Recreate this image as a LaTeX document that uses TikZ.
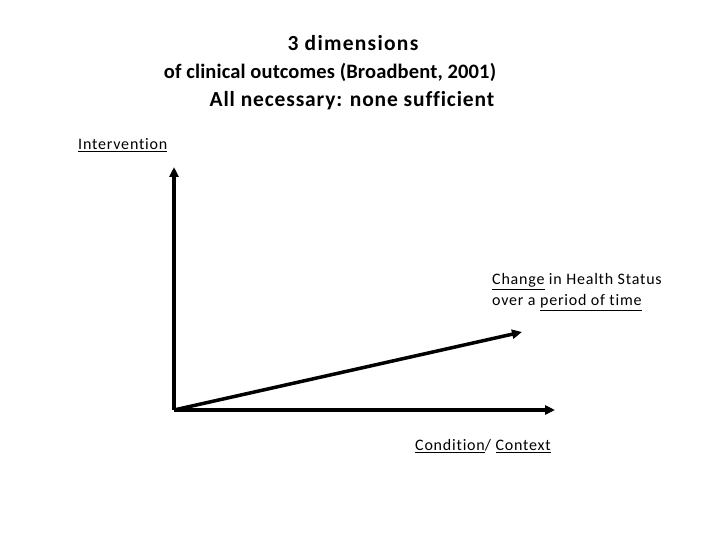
\documentclass[tikz,border=0pt]{standalone}
\usepackage{fontspec}
\setmainfont{Carlito}
\newfontfamily\lblfont[LetterSpace=5,Ligatures=NoCommon]{Carlito}
\newfontfamily\ttlfont[Ligatures=NoCommon]{Carlito}
\usetikzlibrary{arrows.meta}
\newcommand\ulx[1]{\underline{#1}}
\newcommand\lsp[1]{\addfontfeatures{LetterSpace=#1}}
\begin{document}
\begin{tikzpicture}[x=1pt,y=-1pt,
  axis/.style={line width=3.5pt,-{Triangle[length=10pt,width=9pt]}},
  title/.style={font=\ttlfont\bfseries\fontsize{20.5}{28.5}\selectfont,anchor=base,inner sep=0pt},
  lbl/.style={font=\lblfont\fontsize{16}{21}\selectfont,align=left,inner sep=0pt}]
\useasboundingbox (0,0) rectangle (720,540);
\node[title] (t1) at (353,51) {\fontsize{21.5}{28.5}\selectfont\lsp{5.9}3 dimensions};
\node[title] (t2) at (330,79) {\lsp{0.7}of clinical outcomes (Broadbent, 2001)};
\node[title] (t3) at (352,107) {\fontsize{21.5}{28.5}\selectfont\lsp{4}All necessary: none sufficient};
\coordinate (O) at (174,410);
\coordinate (Y) at (174,167);
\coordinate (X) at (555,410);
\coordinate (D) at (522,332);
\draw[axis] (O) -- (Y);
\draw[axis] (O) -- (X);
\draw[axis] (O) -- (D);
\node[lbl,anchor=west] (iv) at (78,145) {\ulx{Intervention}};
\node[lbl,anchor=west] (ch) at (492,292) {\ulx{Change} in Health Status\\over a \ulx{period of time}};
\node[lbl,anchor=west] (cc) at (415,446) {\ulx{Condition}/ \ulx{Context}};
\end{tikzpicture}
\end{document}
